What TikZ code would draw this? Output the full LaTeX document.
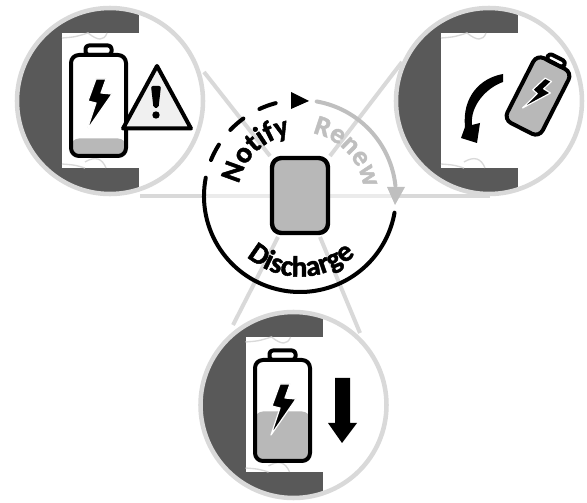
\documentclass[tikz,border=0pt]{standalone}
\usepackage{fontspec}
\newfontfamily\ringfont[BoldFeatures={FakeBold=1.6}]{Carlito}
\usetikzlibrary{decorations.text}
\definecolor{lensdark}{gray}{0.35}
\definecolor{lensring}{gray}{0.85}
\definecolor{conefade}{gray}{0.92}
\definecolor{cellgray}{gray}{0.72}
\definecolor{renewgray}{gray}{0.75}

\begin{document}
\begin{tikzpicture}[
  x=0.75pt,
  y=-0.75pt,
  line join=round,
  cone/.style={lensring, line width=3pt},
  ring/.style={line width=3pt, line cap=round},
  ringtext/.style={decorate, decoration={text along path, text align=center, text={#1}}},
  pics/lens/.style={code={
    \fill[white] (0,0) circle (93);
    \begin{scope}
      \clip (0,0) circle (93);
      \fill[lensdark] (-100,-100) rectangle (-48,100);
      \fill[lensdark] (-48,-100) rectangle (29,-68);
      \fill[lensdark] (-48,67) rectangle (29,100);
      \draw[lensring, line width=1pt] (-48,-63) .. controls (-35,-64) .. (-22,-68)
        .. controls (-12,-60) and (-6,-60) .. (-3,-68);
      \draw[lensring, line width=1pt] (-48,63) .. controls (-35,64) .. (-25,67)
        (-25,61) .. controls (-15,55) and (-8,57) .. (-4,67);
    \end{scope}
    \draw[lensring, line width=3.4pt] (0,0) circle (93);
  }},
  pics/battery/.style={code={
    \fill[cellgray, rounded corners=6pt] (-27.5,#1) rectangle (27.5,50.5);
    \draw[line width=3pt, rounded corners=6pt] (-27.5,-50.5) rectangle (27.5,50.5);
    \draw[line width=3pt, rounded corners=2.5pt] (-13,-50.5) rectangle (13,-60);
    \filldraw[draw=white, fill=black, line width=0.9pt] (-2.5,-26.5) -- (7.5,-26.5) -- (2.5,-12.5)
      -- (13.5,-11.5) -- (-11.5,24.5) -- (-2.5,-2.5) -- (-10.5,-4.5) -- cycle;
  }},
]

% lines from the device to the lenses
\coordinate (Hub) at (300,196);
\draw[cone] (140,196) -- (250,196);
\draw[cone, conefade] (205,196) -- (395,196);
\draw[cone] (395,196) -- (490,196);
\draw[cone] (204,72) -- (270,156);
\draw[cone] (402,62) -- (330,156);
\draw[cone] (278,237) -- (233,325);
\draw[cone] (320,237) -- (360,333);

% three lenses
\pic at (110,101) {lens};
\pic at (489,101) {lens};
\pic at (293.5,405) {lens};

% notify lens: low battery and warning sign
\pic at (98.5,105.5) {battery=33};
\filldraw[fill=black!6, line width=3pt] (157,66) -- (191,128.5) -- (123,128.5) -- cycle;
\fill[rounded corners=1.5pt] (151,86) -- (161,86) -- (158.5,108) -- (153.5,108) -- cycle;
\fill (156,115) circle (3.7);

% renew lens: swapped battery and curved arrow
\pic[rotate=-27, scale=0.72] at (538,96) {battery=-50.5};
\fill (503,74) .. controls (480,78) and (462,97) .. (465,127) -- (461,138) -- (477,143)
  -- (480,123) -- (472,125) .. controls (470,106) and (486,88) .. (503,82) -- cycle;

% discharge lens: half battery and down arrow
\pic at (282.5,410.5) {battery=1};
\fill (335,378) -- (350,378) -- (350,423) -- (357,423) -- (342,443) -- (328,423) -- (335,423) -- cycle;

% device in the middle
\filldraw[fill=cellgray, line width=3.3pt, rounded corners=7pt] (272,158) rectangle (328,233);

% ring of phases
\draw[ring] ([shift={(169:72pt)}]Hub) arc[start angle=169, end angle=350, radius=72pt];
\draw[ring, dash pattern=on 13pt off 14pt] ([shift={(158:72pt)}]Hub) arc[start angle=158, end angle=102, radius=72pt];
\fill (291,92) -- (309,101) -- (291,109) -- cycle;
\draw[ring, renewgray] ([shift={(80:72pt)}]Hub) arc[start angle=80, end angle=6, radius=72pt];
\fill[renewgray] (387,187) -- (405,187) -- (395,205) -- cycle;

% ring labels
\path[ringtext={|\ringfont\bfseries\fontsize{22}{22}\selectfont|Notify}]
  ([shift={(170:46.5pt)}]Hub) arc[start angle=170, end angle=98, radius=46.5pt];
\path[ringtext={|\ringfont\bfseries\fontsize{21}{21}\selectfont\color{renewgray}|Renew}]
  ([shift={(84:48pt)}]Hub) arc[start angle=84, end angle=2, radius=48pt];
\path[ringtext={|\ringfont\bfseries\fontsize{22}{22}\selectfont|Discharge}]
  ([shift={(220:60.5pt)}]Hub) arc[start angle=220, end angle=322, radius=60.5pt];

\useasboundingbox (0,0) rectangle (587,503);
\end{tikzpicture}
\end{document}
